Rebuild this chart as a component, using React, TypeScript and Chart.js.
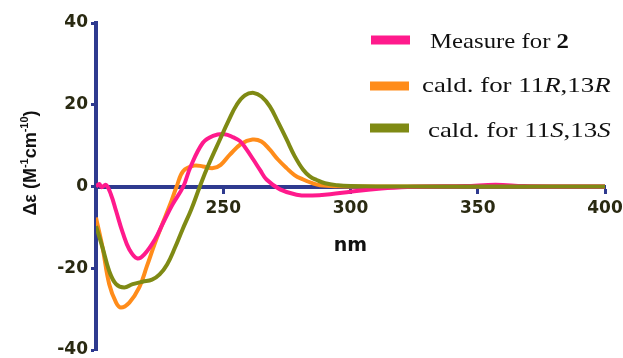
import React, { useEffect, useRef } from "react";
import { Chart, registerables } from "chart.js";

Chart.register(...registerables);

// ---- data ----
const measureNm = [200, 201.3, 202.2, 203.9, 205.9, 207.9, 210.5, 213.1, 216.2, 219, 223.2, 226.3, 230, 234.3, 237, 242, 246, 250.5, 254, 256.6, 259, 261.8, 264.5, 267, 272.3, 278.8, 285, 292, 300, 310, 320, 330, 345, 357, 368, 380, 400];
const measureDe = [0, 0.6, -0.2, 0.4, -2, -6, -11.3, -15.4, -17.6, -16.6, -12.9, -9, -4.5, 0, 4.6, 10.7, 12.4, 12.8, 12, 11.1, 9.2, 6.6, 4, 1.7, -0.7, -2, -2.2, -1.9, -1.3, -0.6, -0.2, 0, 0.1, 0.4, 0.1, 0, 0];

const calcRRNm = [200, 202.6, 205.2, 207.9, 209.8, 213.1, 217, 220, 223.2, 226, 229, 231.7, 234.3, 238.5, 242, 246, 249, 252.6, 257, 261.5, 265, 268.3, 271.5, 274.9, 278, 281.4, 285, 288, 295, 305, 400];
const calcRRDe = [-7.6, -15, -23.9, -28.4, -29.6, -28.4, -24.7, -19.5, -13.8, -9.3, -4.6, 0, 3.8, 5.1, 4.9, 4.5, 5.3, 7.8, 10.4, 11.5, 11, 9, 6.6, 4.5, 2.8, 1.7, 0.8, 0.3, 0.05, 0, 0];

const calcSSNm = [200, 202.6, 205.2, 207.9, 211.1, 214.4, 218.3, 222, 225, 228, 231, 234, 237.5, 240.8, 244, 248.7, 252, 255.3, 258.5, 262, 265, 268.3, 271.5, 274.9, 278, 281.4, 284, 286.7, 290, 295, 300, 310, 400];
const calcSSDe = [-9.7, -15, -20.7, -23.9, -24.7, -23.9, -23.3, -22.8, -21.5, -19, -15, -10.5, -5.5, 0, 5, 11.5, 16, 20, 22.3, 22.9, 22, 19.6, 15.8, 11.5, 7.5, 4.1, 2.5, 1.6, 0.8, 0.3, 0.1, 0, 0];

const xTickValues = [250, 300, 350, 400];
const yTickValues = [-40, -20, 0, 20, 40];
const xTitle = "nm";
const yTitleParts: [string, boolean][] = [["Δε (M", false], ["-1", true], ["cm", false], ["-10", true], [")", false]];

// legend rows: segments [text, style]
const legendRows: [string, string][][] = [
  [["Measure for ", "normal"], ["2", "bold"]],
  [["cald. for 11", "normal"], ["R", "italic"], [",13", "normal"], ["R", "italic"]],
  [["cald. for 11", "normal"], ["S", "italic"], [",13", "normal"], ["S", "italic"]],
];

const COLORS = { measure: "#ff1a8c", rr: "#ff8c1a", ss: "#7f8a14", axis: "#2e3a8f", text: "#2a2a12" };
const legendColors = [COLORS.measure, COLORS.rr, COLORS.ss];

const toPts = (xs: number[], ys: number[]) => xs.map((x, i) => ({ x, y: ys[i] }));

const overlayPlugin = {
  id: "overlay",
  afterDraw(chart: any) {
    const ctx = chart.ctx as CanvasRenderingContext2D;
    // y title
    ctx.save();
    ctx.fillStyle = "#111";
    ctx.translate(29, 163);
    ctx.rotate(-Math.PI / 2);
    const mainF = 'bold 18px "Liberation Sans", Arial, sans-serif';
    const supF = 'bold 11px "Liberation Sans", Arial, sans-serif';
    let total = 0;
    for (const [t, sup] of yTitleParts) {
      ctx.font = sup ? supF : mainF;
      total += ctx.measureText(t).width;
    }
    let cx = -total / 2;
    ctx.textBaseline = "alphabetic";
    for (const [t, sup] of yTitleParts) {
      ctx.font = sup ? supF : mainF;
      ctx.fillText(t, cx, sup ? -1 : 7);
      cx += ctx.measureText(t).width;
    }
    ctx.restore();

    // x title
    const xs = chart.scales.x;
    ctx.save();
    ctx.fillStyle = "#111";
    ctx.font = 'bold 19px "DejaVu Sans", sans-serif';
    ctx.textAlign = "center";
    ctx.textBaseline = "alphabetic";
    ctx.fillText(xTitle, (xs.left + xs.right) / 2, 251);
    ctx.restore();

    // legend
    const swY = [40, 86, 128];
    const swX = [371, 370, 370];
    const txX = [430, 422, 428];
    const txB = [47.5, 92, 136.5];
    const txS = [1.18, 1.28, 1.28];
    legendRows.forEach((row, i) => {
      ctx.save();
      ctx.fillStyle = legendColors[i];
      ctx.fillRect(swX[i], swY[i] - 4.5, 39, 9);
      ctx.restore();
      ctx.save();
      ctx.fillStyle = "#111";
      ctx.translate(txX[i], txB[i]);
      ctx.scale(txS[i], 1);
      ctx.textBaseline = "alphabetic";
      let x = 0;
      for (const [t, st] of row) {
        ctx.font = (st === "bold" ? "bold " : st === "italic" ? "italic " : "") + '21px "Liberation Serif", "Times New Roman", serif';
        ctx.fillText(t, x, 0);
        x += ctx.measureText(t).width;
      }
      ctx.restore();
    });
  },
};

export default function App() {
  const ref = useRef<HTMLCanvasElement | null>(null);
  useEffect(() => {
    if (!ref.current) return;
    const tickFont = { family: '"DejaVu Sans", sans-serif', weight: "bold" as const, size: 17 };
    const common = { borderWidth: 4, pointRadius: 0, tension: 0.4, fill: false };
    const chart = new Chart(ref.current, {
      type: "line",
      data: {
        datasets: [
          { label: "Measure for 2", data: toPts(measureNm, measureDe), borderColor: COLORS.measure, order: 1, ...common },
          { label: "cald. for 11R,13R", data: toPts(calcRRNm, calcRRDe), borderColor: COLORS.rr, order: 2, ...common },
          { label: "cald. for 11S,13S", data: toPts(calcSSNm, calcSSDe), borderColor: COLORS.ss, order: 0, ...common },
        ],
      },
      options: {
        responsive: false,
        animation: false,
        devicePixelRatio: 1,
        layout: { padding: { left: 0, top: 23, right: 18, bottom: 8 } },
        plugins: { legend: { display: false }, tooltip: { enabled: false } },
        scales: {
          x: {
            type: "linear",
            min: 200,
            max: 400,
            position: { y: 0 } as any,
            afterBuildTicks: (s: any) => { s.ticks = xTickValues.map((v) => ({ value: v })); },
            afterFit: (s: any) => { s.height = 0; s.paddingLeft = 0; s.paddingRight = 0; },
            ticks: { font: tickFont, color: COLORS.text, padding: 7, maxRotation: 0, autoSkip: false },
            grid: { display: true, drawOnChartArea: false, drawTicks: true, tickLength: 5, tickColor: COLORS.axis, tickWidth: 3 },
            border: { display: true, color: COLORS.axis, width: 4 },
          },
          y: {
            type: "linear",
            min: -40,
            max: 40,
            position: "left",
            afterBuildTicks: (s: any) => { s.ticks = yTickValues.map((v) => ({ value: v })); },
            afterFit: (s: any) => { s.width = 96; s.paddingTop = 0; s.paddingBottom = 0; },
            ticks: { font: tickFont, color: COLORS.text, padding: 3 },
            grid: { display: true, drawOnChartArea: false, drawTicks: true, tickLength: 5, tickColor: COLORS.axis, tickWidth: 3 },
            border: { display: true, color: COLORS.axis, width: 4 },
          },
        },
      },
      plugins: [overlayPlugin],
    });
    return () => chart.destroy();
  }, []);
  return (
    <div style={{ position: "absolute", left: 0, top: 0, width: 623, height: 358, background: "#fff" }}>
      <canvas ref={ref} width={623} height={358} style={{ display: "block" }} />
    </div>
  );
}
